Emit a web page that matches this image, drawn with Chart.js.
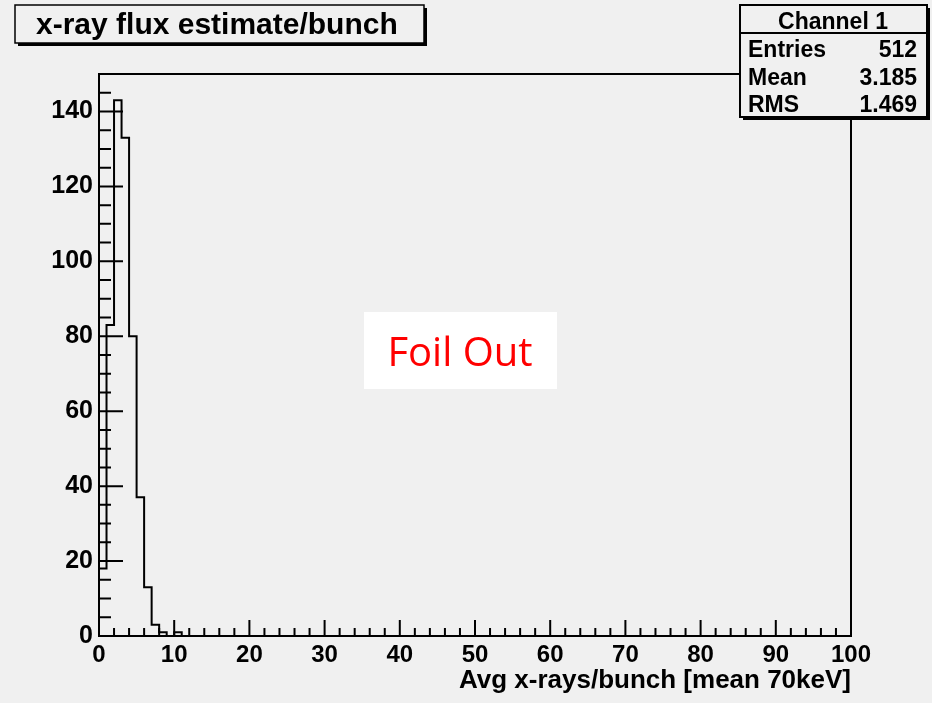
<!DOCTYPE html>
<html>
<head>
<meta charset="utf-8">
<script src="https://cdn.jsdelivr.net/npm/chart.js@4"></script>
<style>
  html, body { margin: 0; padding: 0; background: #f0f0f0; }
</style>
</head>
<body>
<canvas id="fluxChart" width="932" height="705"></canvas>
<script>
  // histogram contents, 1 unit wide bins starting at 0 (all later bins empty)
  const binCounts = [18, 83, 143, 133, 80, 37, 13, 3, 1, 0, 1];
  const xMin = 0, xMax = 100, yMax = 150;
  const xTicks = [0, 10, 20, 30, 40, 50, 60, 70, 80, 90, 100];
  const yTicks = [0, 20, 40, 60, 80, 100, 120, 140];
  const statsLabels = ['Entries', 'Mean', 'RMS'];
  const statsValues = ['512', '3.185', '1.469'];

  const bg = '#f0f0f0';
  const boldFont = 'Liberation Sans';

  // step outline: value of bin i is held from x=i to x=i+1
  const points = [{ x: xMin, y: 0 }];
  binCounts.forEach(function (n, i) { points.push({ x: xMin + i, y: n }); });
  points.push({ x: xMin + binCounts.length, y: 0 });
  points.push({ x: xMax, y: 0 });

  const rootLook = {
    id: 'rootLook',
    beforeDraw(chart) {
      const c = chart.ctx;
      c.save();
      c.fillStyle = bg;
      c.fillRect(0, 0, chart.width, chart.height);
      c.fillStyle = '#ffffff';
      c.fillRect(0, 703, chart.width, 2);
      c.restore();
    },
    afterDatasetsDraw(chart) {
      const c = chart.ctx, a = chart.chartArea;
      const xs = chart.scales.x, ys = chart.scales.y;
      c.save();
      c.strokeStyle = '#000';
      c.lineWidth = 2;
      c.strokeRect(a.left, a.top, a.right - a.left, a.bottom - a.top);
      c.beginPath();
      for (let v = xMin; v <= xMax; v += 2) {
        const px = xs.getPixelForValue(v);
        const len = v % 10 === 0 ? 16 : 8;
        c.moveTo(px, a.bottom);
        c.lineTo(px, a.bottom - len);
      }
      for (let v = 0; v <= yMax; v += 5) {
        const py = ys.getPixelForValue(v);
        const len = v % 20 === 0 ? 24 : 12;
        c.moveTo(a.left, py);
        c.lineTo(a.left + len, py);
      }
      c.stroke();
      c.restore();
    },
    afterDraw(chart) {
      const c = chart.ctx;
      c.save();
      // title box
      c.fillStyle = '#000';
      c.fillRect(18, 8, 409, 38);
      c.fillStyle = bg;
      c.fillRect(15, 5, 409, 38);
      c.strokeStyle = '#000';
      c.lineWidth = 1.5;
      c.strokeRect(15, 5, 409, 38);
      c.fillStyle = '#000';
      c.font = 'bold 30px "' + boldFont + '"';
      c.textAlign = 'left';
      c.textBaseline = 'alphabetic';
      c.fillText('x-ray flux estimate/bunch', 36, 34);

      // stats box
      c.fillStyle = '#000';
      c.fillRect(743, 8, 187, 112);
      c.fillStyle = bg;
      c.fillRect(740, 5, 187, 112);
      c.lineWidth = 2;
      c.strokeRect(740, 5, 187, 112);
      c.beginPath();
      c.moveTo(740, 33);
      c.lineTo(927, 33);
      c.stroke();
      c.fillStyle = '#000';
      c.font = 'bold 23px "' + boldFont + '"';
      c.textAlign = 'center';
      c.fillText('Channel 1', 833, 29);
      const rowBase = [57, 85, 112];
      statsLabels.forEach(function (lab, i) {
        c.textAlign = 'left';
        c.fillText(lab, 748, rowBase[i]);
        c.textAlign = 'right';
        c.fillText(statsValues[i], 917, rowBase[i]);
      });

      // annotation
      c.fillStyle = '#ffffff';
      c.fillRect(364, 312, 193, 77);
      c.fillStyle = '#ff0000';
      c.font = '40px "Open Sans"';
      c.textAlign = 'center';
      c.fillText('Foil Out', 460, 366);
      c.restore();
    }
  };

  const ctx = document.getElementById('fluxChart').getContext('2d');
  const fluxChart = new Chart(ctx, {
    type: 'line',
    data: {
      datasets: [{
        label: 'Channel 1',
        data: points,
        stepped: 'before',
        borderColor: '#000',
        borderWidth: 2,
        pointRadius: 0,
        fill: false
      }]
    },
    options: {
      responsive: false,
      animation: false,
      layout: { padding: { left: 0, top: 74, right: 81, bottom: 0 } },
      plugins: { legend: { display: false }, tooltip: { enabled: false } },
      scales: {
        x: {
          type: 'linear',
          min: xMin,
          max: xMax,
          afterBuildTicks: function (s) { s.ticks = xTicks.map(function (v) { return { value: v }; }); },
          afterFit: function (s) { s.height = 69; },
          grid: { display: false, drawTicks: false },
          border: { display: false },
          ticks: {
            color: '#000',
            padding: 5,
            maxRotation: 0,
            font: { family: boldFont, size: 24, weight: 'bold' }
          },
          title: {
            display: true,
            text: 'Avg x-rays/bunch [mean 70keV]',
            align: 'end',
            color: '#000',
            padding: { top: 0, bottom: 9 },
            font: { family: boldFont, size: 26, weight: 'bold' }
          }
        },
        y: {
          min: 0,
          max: yMax,
          afterBuildTicks: function (s) { s.ticks = yTicks.map(function (v) { return { value: v }; }); },
          afterFit: function (s) { s.width = 99; },
          grid: { display: false, drawTicks: false },
          border: { display: false },
          ticks: {
            color: '#000',
            padding: 6,
            font: { family: boldFont, size: 25, weight: 'bold' }
          }
        }
      }
    },
    plugins: [rootLook]
  });
</script>
</body>
</html>
